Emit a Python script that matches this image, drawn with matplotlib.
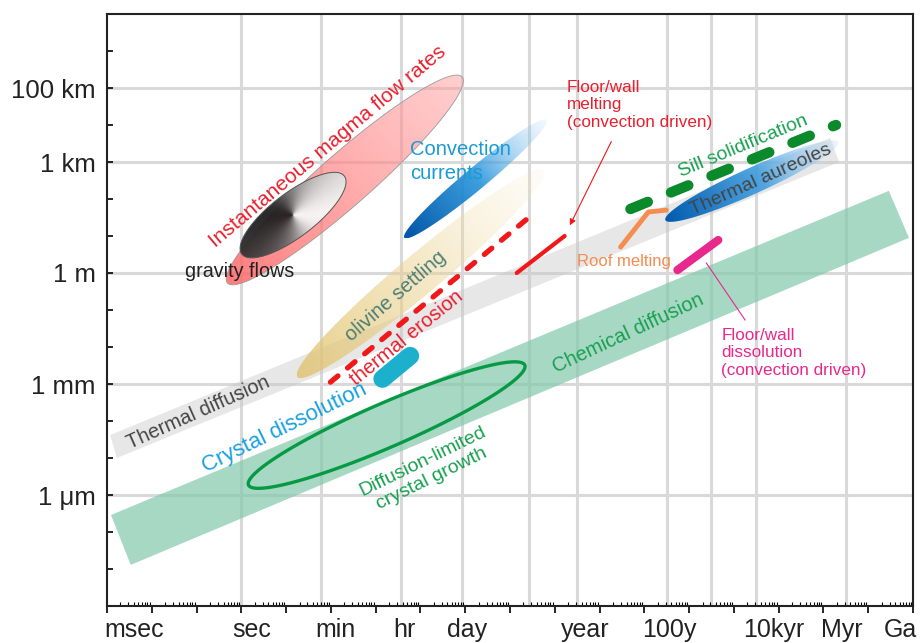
import numpy as np
import matplotlib
matplotlib.use('Agg')
import matplotlib.pyplot as plt
from matplotlib.patches import Polygon

plt.rcParams['font.family'] = ['Liberation Sans', 'DejaVu Sans']
plt.rcParams['lines.scale_dashes'] = False

# x = log10(time / s), y = log10(length / m)
grid_t = np.log10([1, 60, 3600, 86400, 2.592e6, 3.156e7, 3.156e9, 3.156e10, 3.156e11, 3.156e13])
grid_L = [5, 3, 0, -3, -6]
ylabels = {5: '100 km', 3: '1 km', 0: '1 m', -3: '1 mm', -6: '1 μm'}
xlabels = ['msec', 'sec', 'min', 'hr', 'day', 'year', '100y', '10kyr', 'Myr', 'Ga']
xlabel_t = [-2.4, 0.23, 2.1, 3.64, 5.04, 7.69, 9.56, 11.88, 13.41, 14.72]

# bands (corners)
chem_t = [-2.91, 14.46, 14.91, -2.47]
chem_L = [-6.54, 2.22, 0.95, -7.89]
thdiff_t = [-2.93, 13.15, 13.35, -2.78]
thdiff_L = [-4.38, 3.65, 3.0, -5.0]

# ellipses (end points)
magma_t, magma_L = [-0.31, 4.93], [-0.27, 5.30]
grav_t, grav_L = [0.01, 2.30], [0.51, 2.62]
olivine_t, olivine_L = [1.25, 6.76], [-2.81, 2.78]
conv_t, conv_L = [3.64, 6.82], [0.95, 4.14]
aureole_t, aureole_L = [9.47, 13.33], [1.43, 3.54]
dlgrowth_t, dlgrowth_L = [0.16, 6.33], [-5.73, -2.49]

# lines
erosion_t, erosion_L = [1.99, 6.49], [-2.95, 1.57]
fwmelt_t, fwmelt_L = [6.15, 7.22], [0.0, 1.0]
sill_t, sill_L = [8.69, 13.28], [1.73, 4.0]
roof_t, roof_L = [8.47, 9.09, 9.49], [0.70, 1.65, 1.70]
fwdiss_t, fwdiss_L = [9.74, 10.65], [0.08, 0.89]
crdiss_t, crdiss_L = [3.15, 3.77], [-2.86, -2.24]

fig = plt.figure(figsize=(9.22, 6.43), dpi=100)
ax = fig.add_axes([107/922, 1-606/643, 806/922, 592/643])
ax.set_xlim(-3, 15)
ax.set_ylim(-9, 7)
ax.set_autoscale_on(False)

for t in grid_t:
    ax.axvline(t, color='#d9d9d9', lw=2.2, zorder=1)
for L in grid_L:
    ax.axhline(L, color='#d9d9d9', lw=2.2, zorder=1)


def ell_poly(t, L, hw, n=240):
    A = ax.transData.transform(np.column_stack([t, L]))
    c = A.mean(0)
    u = (A[1] - A[0]) / 2
    a = np.hypot(*u)
    e = u / a
    nrm = np.array([-e[1], e[0]])
    th = np.linspace(0, 2*np.pi, n)
    pts = c + np.outer(a*np.cos(th), e) + np.outer(hw*np.sin(th), nrm)
    return ax.transData.inverted().transform(pts)


def grad_fill(t, L, hw, stops, z, ec='none', lw=0.6, conic=False):
    poly = ell_poly(t, L, hw)
    patch = Polygon(poly, closed=True, fc='none', ec=ec, lw=lw, zorder=z+0.01)
    ax.add_patch(patch)
    x0, y0 = poly.min(0)
    x1, y1 = poly.max(0)
    X, Y = np.meshgrid(np.linspace(x0, x1, 400), np.linspace(y0, y1, 400))
    P = ax.transData.transform(np.column_stack([X.ravel(), Y.ravel()])).reshape(400, 400, 2)
    A = ax.transData.transform(np.column_stack([t, L]))
    if conic:
        c = A.mean(0)
        ang = np.arctan2(P[..., 1]-c[1], P[..., 0]-c[0])
        s = 0.5 + 0.5*np.cos(ang)
    else:
        d = A[1] - A[0]
        s = np.clip(((P - A[0]) @ d) / (d @ d), 0, 1)
    st = [p for p, _ in stops]
    rgba = np.stack([np.interp(s, st, [c[i] for _, c in stops]) for i in range(4)], -1)
    im = ax.imshow(rgba, extent=(x0, x1, y0, y1), origin='lower', aspect='auto',
                   interpolation='bilinear', zorder=z)
    im.set_clip_path(patch)


# bands
ax.add_patch(Polygon(np.column_stack([thdiff_t, thdiff_L]), closed=True,
                     fc='#c8c8c8', alpha=0.42, ec='none', zorder=2))
ax.add_patch(Polygon(np.column_stack([chem_t, chem_L]), closed=True,
                     fc='#82c8aa', alpha=0.7, ec='none', zorder=2))

# ellipses
grad_fill(magma_t, magma_L, 26, [(0, (1.0, 0.40, 0.40, 0.85)), (1, (1.0, 0.62, 0.62, 0.5))],
          3, ec='#999999', lw=0.6)
grad_fill(grav_t, grav_L, 22, [(0, (0.12, 0.12, 0.12, 0.95)), (0.5, (0.5, 0.5, 0.5, 0.95)),
                               (1, (0.97, 0.97, 0.97, 0.95))], 4, ec='#555555', lw=0.7, conic=True)
grad_fill(olivine_t, olivine_L, 20, [(0, (0.88, 0.76, 0.42, 0.8)), (0.5, (0.92, 0.82, 0.55, 0.5)),
                                     (1, (0.97, 0.9, 0.72, 0.1))], 3)
grad_fill(conv_t, conv_L, 11, [(0, (0.0, 0.33, 0.65, 1)), (0.5, (0.15, 0.58, 0.86, 0.9)),
                               (1, (0.6, 0.8, 0.96, 0.1))], 3)
grad_fill(aureole_t, aureole_L, 13, [(0, (0.0, 0.35, 0.68, 1)), (0.55, (0.25, 0.62, 0.88, 0.9)),
                                     (1, (0.75, 0.87, 0.96, 0.3))], 4)
dl = Polygon(ell_poly(dlgrowth_t, dlgrowth_L, 22), closed=True, fc='none', ec='#069a45',
             lw=2.4, zorder=5)
ax.add_patch(dl)

# lines
red = '#f01818'
ax.plot(erosion_t, erosion_L, color=red, lw=3.8, ls=(0, (7, 9)), dash_capstyle='round', zorder=5)
ax.plot(fwmelt_t, fwmelt_L, color=red, lw=3.0, solid_capstyle='round', zorder=5)
ax.plot(sill_t, sill_L, color='#0a8a2a', lw=7.5, ls=(0, (13.5, 18)), dash_capstyle='round', zorder=5)
ax.plot(roof_t, roof_L, color='#f58c50', lw=3.5, solid_capstyle='round', solid_joinstyle='round', zorder=5)
ax.plot(fwdiss_t, fwdiss_L, color='#e8288c', lw=6, solid_capstyle='round', zorder=5)
ax.plot(crdiss_t, crdiss_L, color='#1cb0cc', lw=13, solid_capstyle='round', zorder=5)

ax.annotate('', xy=(7.31, 1.22), xytext=(8.29, 3.62),
            arrowprops=dict(arrowstyle='-|>', color=red, lw=0.8, mutation_scale=9), zorder=6)
ax.plot([10.385, 11.25], [0.27, -1.27], color='#e8288c', lw=0.8, zorder=5)

# labels
def lab(x, y, s, c, fs, rot=0, ha='center', **kw):
    ax.text(x, y, s, color=c, fontsize=fs, rotation=rot, rotation_mode='anchor',
            ha=ha, va='center', zorder=7, **kw)

lab(1.92, 3.43, 'Instantaneous magma flow rates', '#e8202e', 15, 40)
lab(3.77, 3.01, 'Convection\ncurrents', '#1a9ad6', 14.5, ha='left', linespacing=1.35)
lab(-0.04, 0.05, 'gravity flows', '#222222', 14.2)
lab(7.27, 4.55, 'Floor/wall\nmelting\n(convection driven)', '#e8202e', 12.3, ha='left', linespacing=1.22)
lab(7.49, 0.30, 'Roof melting', '#f58c50', 12, ha='left')
lab(11.21, 3.43, 'Sill solidification', '#18a050', 14, 22.5)
lab(11.61, 2.51, 'Thermal aureoles', '#444444', 14, 24)
lab(8.65, -1.62, 'Chemical diffusion', '#18a050', 14.5, 25)
lab(10.72, -2.16, 'Floor/wall\ndissolution\n(convection driven)', '#e8288c', 12.3, ha='left', linespacing=1.22)
lab(3.44, -0.62, 'olivine settling', '#4d7f74', 14.5, 41)
lab(3.70, -1.76, 'thermal erosion', '#e8202e', 14.5, 39)
lab(0.96, -4.19, 'Crystal dissolution', '#1aa0e0', 16, 26)
lab(-0.97, -3.78, 'Thermal diffusion', '#444444', 14.5, 24)
lab(4.15, -5.32, 'Diffusion-limited\ncrystal growth', '#18a050', 14, 26, multialignment='center', linespacing=1.2)

# axes
ax.set_xticks(range(-3, 16))
ax.set_xticklabels([])
ax.set_xticks([n + np.log10(k) for n in range(-3, 15) for k in range(2, 10)], minor=True)
ax.tick_params(axis='x', which='major', direction='out', length=5, width=1.2)
ax.tick_params(axis='x', which='minor', direction='in', length=3, width=0.8)
ax.set_yticks(range(-9, 8))
ax.set_yticklabels([ylabels.get(v, '') for v in range(-9, 8)])
ax.tick_params(axis='y', direction='in', length=4, width=1.2, labelsize=18.5, pad=8,
               labelcolor='#222222')
for sp in ax.spines.values():
    sp.set_linewidth(1.5)
    sp.set_color('#222222')
    sp.set_zorder(8)

xt = ax.get_xaxis_transform()
for x, s in zip(xlabel_t, xlabels):
    ax.text(x, -0.052, s, transform=xt, ha='center', va='baseline', fontsize=18,
            color='#222222', clip_on=False)

fig.savefig('out.png', dpi=100)
